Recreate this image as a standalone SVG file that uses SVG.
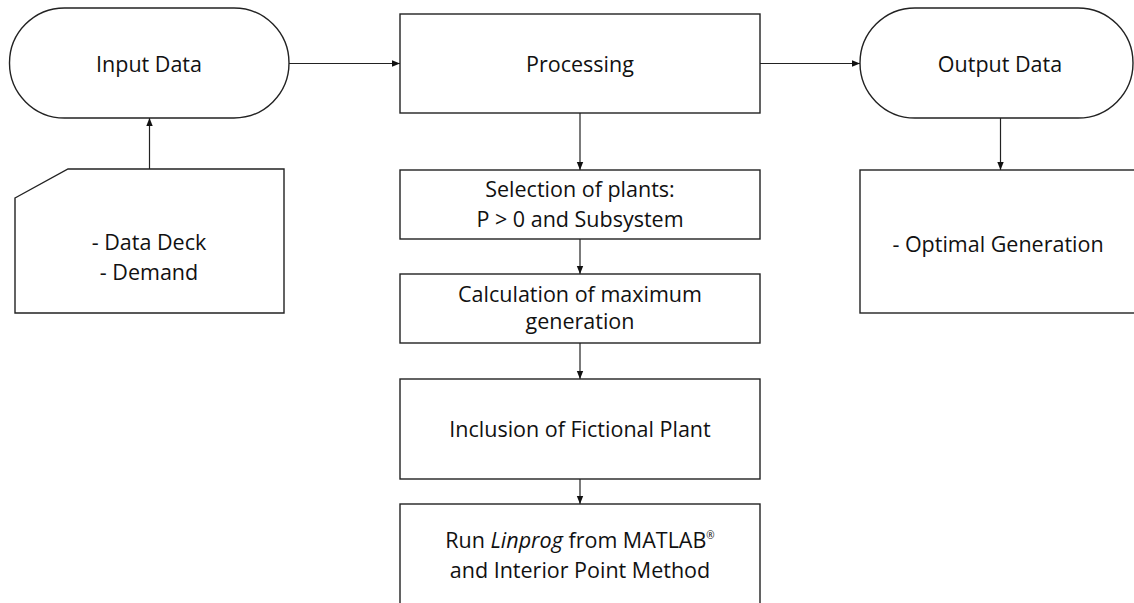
<svg xmlns="http://www.w3.org/2000/svg" width="1134" height="603" viewBox="0 0 1134 603">
<defs>
<marker id="arr" markerWidth="8" markerHeight="8" refX="8" refY="4" orient="auto" markerUnits="userSpaceOnUse">
<path d="M0,0.8 L8,4 L0,7.2 Z" fill="#111"/>
</marker>
<style>
.s{fill:#fff;stroke:#222;stroke-width:1.4}
.t{font-family:"Open Sans","Liberation Sans",sans-serif;font-size:21.5px;fill:#111;text-anchor:middle}
.c{stroke:#222;stroke-width:1.2;fill:none;marker-end:url(#arr)}
</style>
</defs>
<rect width="1134" height="603" fill="#fff"/>
<g id="connectors">
<line class="c" x1="289" y1="63.5" x2="400" y2="63.5"/>
<line class="c" x1="760" y1="63.5" x2="860" y2="63.5"/>
<line class="c" x1="149.5" y1="169" x2="149.5" y2="118"/>
<line class="c" x1="1000.5" y1="118" x2="1000.5" y2="170"/>
<line class="c" x1="580" y1="113" x2="580" y2="170"/>
<line class="c" x1="580" y1="239" x2="580" y2="274"/>
<line class="c" x1="580" y1="343" x2="580" y2="379"/>
<line class="c" x1="580" y1="479" x2="580" y2="504"/>
</g>
<g id="input-data">
<rect class="s" x="9.5" y="8" width="279.5" height="110" rx="55" ry="55"/>
<text class="t" x="149" y="72">Input Data</text>
</g>
<g id="data-deck">
<path class="s" d="M15,198 L68,169 L284,169 L284,313 L15,313 Z"/>
<text class="t" x="149" y="250">- Data Deck</text>
<text class="t" x="149" y="280">- Demand</text>
</g>
<g id="processing">
<rect class="s" x="400" y="14" width="360" height="99"/>
<text class="t" x="580" y="72">Processing</text>
</g>
<g id="selection">
<rect class="s" x="400" y="170" width="360" height="69"/>
<text class="t" x="580" y="197">Selection of plants:</text>
<text class="t" x="580" y="227">P &gt; 0 and Subsystem</text>
</g>
<g id="calculation">
<rect class="s" x="400" y="274" width="360" height="69"/>
<text class="t" x="580" y="302">Calculation of maximum</text>
<text class="t" x="580" y="329">generation</text>
</g>
<g id="inclusion">
<rect class="s" x="400" y="379" width="360" height="100"/>
<text class="t" x="580" y="437">Inclusion of Fictional Plant</text>
</g>
<g id="linprog">
<rect class="s" x="400" y="504" width="360" height="110"/>
<text class="t" x="580" y="548">Run <tspan font-style="italic">Linprog</tspan> from MATLAB<tspan font-size="10" dy="-9" fill="#111">®</tspan></text>
<text class="t" x="580" y="578">and Interior Point Method</text>
</g>
<g id="output-data">
<rect class="s" x="860" y="8" width="273" height="110" rx="55" ry="55"/>
<text class="t" x="1000" y="72">Output Data</text>
</g>
<g id="optimal">
<rect class="s" x="860" y="170" width="290" height="143"/>
<text class="t" x="998" y="252">- Optimal Generation</text>
</g>
</svg>
